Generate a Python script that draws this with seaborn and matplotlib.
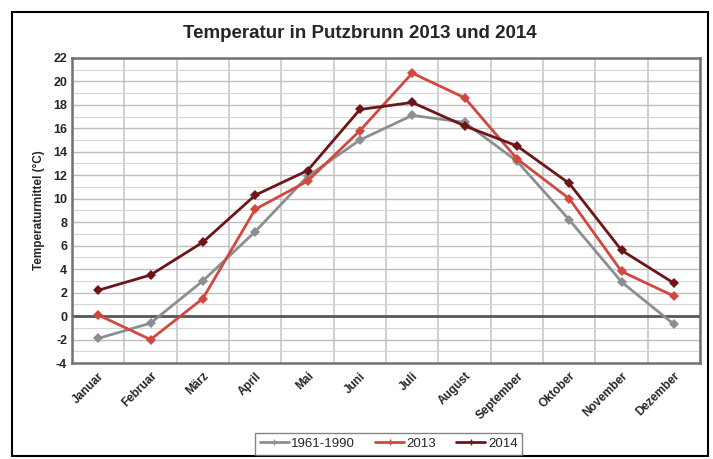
"""Temperatur in Putzbrunn 2013 und 2014"""
import matplotlib
matplotlib.use("Agg")
import matplotlib.pyplot as plt
from matplotlib.patches import Rectangle
import numpy as np
import pandas as pd
import seaborn as sns

months = ["Januar", "Februar", "März", "April", "Mai", "Juni", "Juli",
          "August", "September", "Oktober", "November", "Dezember"]
mean_1961_1990 = [-1.9, -0.6, 3.0, 7.2, 11.9, 15.0, 17.1, 16.5, 13.2, 8.2, 2.9, -0.7]
temp_2013 = [0.1, -2.0, 1.5, 9.1, 11.5, 15.8, 20.7, 18.6, 13.4, 10.0, 3.8, 1.7]
temp_2014 = [2.2, 3.5, 6.3, 10.3, 12.4, 17.6, 18.2, 16.2, 14.5, 11.3, 5.6, 2.8]

series = {"1961-1990": mean_1961_1990, "2013": temp_2013, "2014": temp_2014}
palette = {"1961-1990": "#8a9092", "2013": "#d2483f", "2014": "#6e1519"}

df = pd.DataFrame(
    [(i, name, v) for name, vals in series.items() for i, v in enumerate(vals)],
    columns=["Monat", "Reihe", "Temperatur"],
)

sns.set_theme(style="white")
plt.rcParams["font.family"] = ["Liberation Sans", "DejaVu Sans"]
plt.rcParams["axes.unicode_minus"] = False

fig = plt.figure(figsize=(7.13, 4.59), dpi=100)
ax = fig.add_axes([0.101, 0.209, 0.881, 0.665])

sns.lineplot(data=df, x="Monat", y="Temperatur", hue="Reihe", palette=palette,
             marker="D", markersize=5, markeredgewidth=0, linewidth=2,
             ax=ax, legend=False, zorder=3)

ax.set_xlim(-0.5, 11.5)
ax.set_ylim(-4, 22)
ax.set_yticks(np.arange(-4, 23, 2))
ax.set_yticks(np.arange(-4, 23, 1), minor=True)
ax.set_xticks(range(12))
ax.set_xticklabels(months, rotation=45, ha="right", rotation_mode="anchor",
                   fontsize=8.5, fontweight="bold")
ax.set_xticks(np.arange(-0.5, 12, 1), minor=True)
for lab in ax.get_yticklabels():
    lab.set_fontsize(9)
    lab.set_fontweight("bold")

ax.grid(which="minor", axis="x", color="#c8c8c8", linewidth=1.2)
ax.grid(which="major", axis="y", color="#bdbdbd", linewidth=1.0)
ax.grid(which="minor", axis="y", color="#d6d6d6", linewidth=0.8)
ax.tick_params(axis="both", which="both", length=0)
ax.tick_params(axis="x", pad=5)
ax.axhline(0, color="#55595c", linewidth=2, zorder=2)
for sp in ax.spines.values():
    sp.set_color("#6f7275")
    sp.set_linewidth(1.8)

ax.set_xlabel("")
ax.set_ylabel("Temperaturmittel (°C)", fontsize=8.5, fontweight="bold", labelpad=6)
fig.text(0.505, 0.927, "Temperatur in Putzbrunn 2013 und 2014", ha="center",
         va="center", fontsize=13.5, fontweight="bold")

handles = [plt.Line2D([], [], color=palette[k], marker="+", markersize=5,
                      linewidth=2) for k in series]
fig.legend(handles, list(series), loc="center", bbox_to_anchor=(0.545, 0.033),
           ncol=3, frameon=True, fancybox=False, edgecolor="#666666",
           fontsize=9.5, handlelength=2.2, handletextpad=0.2, columnspacing=1.5,
           borderpad=0.35)

fig.patches.append(Rectangle((12 / 713, 3 / 459), 696 / 713, 444 / 459,
                             transform=fig.transFigure, fill=False,
                             edgecolor="black", linewidth=1.5))

fig.savefig("out.png", dpi=100)
